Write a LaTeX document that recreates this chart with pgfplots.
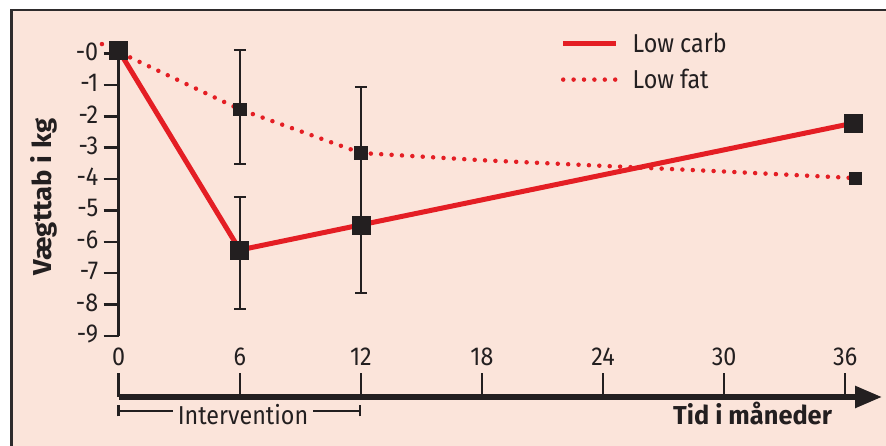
\documentclass[border=0pt]{standalone}
\usepackage{fontspec}
\setmainfont{Fira Sans}[FakeStretch=0.9]
\newfontfamily\bff{Fira Sans}[FakeStretch=0.98]
\newfontfamily\bffy{Fira Sans}[FakeStretch=1.06]
\usepackage{pgfplots}
\pgfplotsset{compat=1.18}
\usetikzlibrary{arrows.meta}
\definecolor{bg}{HTML}{FBE4DA}
\definecolor{cred}{HTML}{E41E24}
\definecolor{ink}{HTML}{231F20}
\definecolor{framec}{HTML}{2E2B2C}
\newcommand\fsz{\fontsize{26}{31}\selectfont}
\begin{document}
\begin{tikzpicture}[font=\fsz]
\begin{scope}[x=1bp,y=1bp]
\useasboundingbox (0,0) rectangle (886,446);
\fill[white] (0,0) rectangle (886,446);
\fill[bg] (11.3,0) rectangle (886,436);
\draw[framec, line width=2.8bp] (11.3,0) -- (11.3,436) -- (886,436);
\end{scope}
\begin{axis}[
  at={(118.7bp,110bp)}, anchor=south west,
  scale only axis, width=726.5bp, height=282.5bp,
  xmin=0, xmax=36, ymin=-9, ymax=0, clip=false,
  axis y line*=left, axis x line*=bottom,
  x axis line style={draw=none},
  y axis line style={line width=2.5bp, draw=ink},
  xtick={0,6,12,18,24,30,36}, xticklabels={0,6,12,18,24,30,36},
  x tick style={draw=none}, xtick align=inside,
  xticklabel style={anchor=center, yshift=-21bp, text=ink, font=\fsz},
  ytick={-9,-8,-7,-6,-5,-4,-3,-2,-1,0},
  yticklabels={-9,-8,-7,-6,-5,-4,-3,-2,-1,-0},
  y tick style={line width=2.5bp, draw=ink},
  ytick align=outside, major tick length=15bp,
  yticklabel style={text=ink, font=\fsz, xshift=-2bp, yshift=2bp},
  ylabel={Vægttab i kg},
  ylabel style={at={(axis description cs:-0.103,0.492)}, anchor=center, font=\fsz\bffy\bfseries, text=ink},
  legend style={draw=none, fill=none, at={(axis description cs:0.604,1.0865)}, anchor=north west, font=\fsz, text=ink, row sep=11bp,
    /tikz/every odd column/.append style={column sep=12bp}},
  legend cell align=left,
  legend image code/.code={\draw[#1] (0bp,0bp) -- (53bp,0bp);},
]
\addplot[cred, line width=5bp, line join=round] coordinates {(0,0.1)(6,-6.26)(12,-5.46)(36.4,-2.22)};
\addlegendentry{Low carb}
\addplot[cred, line width=4.5bp, line cap=round, dash pattern=on 0bp off 10.4bp] coordinates {(-0.83,0.3)(6,-1.78)(12,-3.17)(18,-3.4)(24,-3.58)(30,-3.76)(36.5,-3.97)};
\addlegendentry{Low fat}
\addplot[forget plot, draw=none, mark=none, error bars/.cd, y dir=both, y explicit,
  error bar style={draw=ink, line width=2.5bp},
  error mark options={draw=ink, line width=2.5bp, mark size=6bp, rotate=90}]
  coordinates {
  (6,-1.78) += (0,1.89) -= (0,1.74)
  (12,-3.17) += (0,2.1) -= (0,2.1)
  (6,-6.26) += (0,1.69) -= (0,1.88)
  (12,-5.46) += (0,2.17) -= (0,2.17)
  };
\addplot[forget plot, only marks, mark=square*, mark size=9bp, mark options={fill=ink, draw=ink, line width=0.6bp}]
  coordinates {(0,0.1)(6,-6.26)(12,-5.46)(36.4,-2.22)};
\addplot[forget plot, only marks, mark=square*, mark size=6.2bp, mark options={fill=ink, draw=ink, line width=0.6bp}]
  coordinates {(6,-1.78)(12,-3.17)(36.5,-3.97)};
\end{axis}
\begin{scope}[x=1bp,y=1bp]
\foreach \m in {0,6,...,36} \draw[ink, line width=2.5bp] ({118.7+20.18*\m},49) -- ({118.7+20.18*\m},73);
\draw[ink, line width=5.5bp, -{Triangle[length=27bp,width=21bp]}] (118.7,49) -- (882,49);
\draw[ink, line width=2.5bp] (118.7,35) -- (360,35);
\draw[ink, line width=2.5bp] (118.7,29.5) -- (118.7,40.5);
\draw[ink, line width=2.5bp] (360,29.5) -- (360,40.5);
\node[fill=bg, inner xsep=5bp, inner ysep=1bp, anchor=base, text=ink] at (243,21) {Intervention};
\node[anchor=base west, font=\fsz\bff\bfseries, text=ink, inner sep=0pt] at (673,21) {Tid i måneder};
\end{scope}
\end{tikzpicture}
\end{document}
